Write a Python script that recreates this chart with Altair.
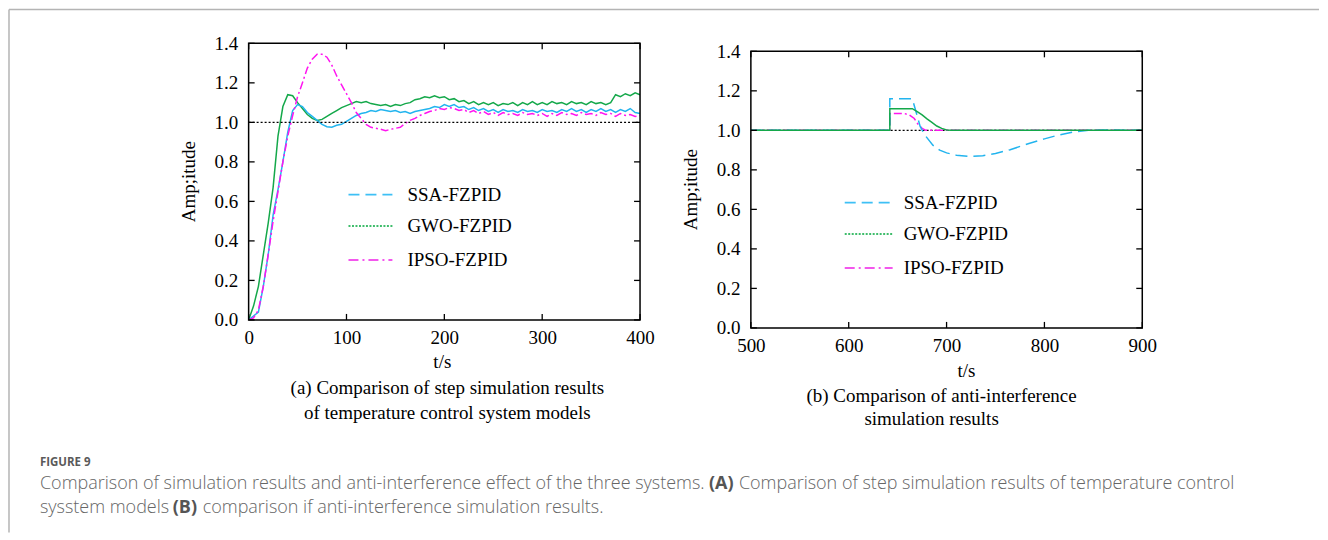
import altair as alt
import pandas as pd

# ---------------- panel (a): step response ----------------
t_a = list(range(0, 401, 5))
ssa_a = [0.00, 0.02, 0.04, 0.17, 0.33, 0.53, 0.66, 0.80, 0.95, 1.06,
         1.09, 1.08, 1.05, 1.03, 1.01, 0.99, 0.978, 0.975, 0.985, 0.99,
         1.005, 1.02, 1.035, 1.045, 1.05, 1.06, 1.055, 1.065, 1.06, 1.055,
         1.06, 1.05, 1.055, 1.045, 1.055, 1.06, 1.065, 1.07, 1.08, 1.075,
         1.09, 1.08, 1.09, 1.075, 1.08, 1.065, 1.075, 1.06, 1.07, 1.055,
         1.065, 1.05, 1.065, 1.055, 1.06, 1.05, 1.065, 1.055, 1.06, 1.05,
         1.065, 1.055, 1.06, 1.05, 1.065, 1.055, 1.07, 1.055, 1.065, 1.05,
         1.065, 1.055, 1.07, 1.055, 1.065, 1.05, 1.065, 1.055, 1.07, 1.05,
         1.045]
gwo_a = [0.00, 0.07, 0.17, 0.33, 0.49, 0.67, 0.93, 1.08, 1.14, 1.135,
         1.10, 1.07, 1.04, 1.02, 1.01, 1.015, 1.03, 1.045, 1.06, 1.075,
         1.085, 1.095, 1.105, 1.10, 1.105, 1.095, 1.09, 1.085, 1.09, 1.08,
         1.09, 1.085, 1.095, 1.10, 1.115, 1.12, 1.13, 1.125, 1.135, 1.125,
         1.13, 1.115, 1.12, 1.105, 1.11, 1.095, 1.105, 1.09, 1.10, 1.09,
         1.10, 1.085, 1.095, 1.09, 1.10, 1.085, 1.10, 1.09, 1.105, 1.09,
         1.10, 1.09, 1.105, 1.095, 1.10, 1.09, 1.105, 1.095, 1.10, 1.09,
         1.105, 1.095, 1.10, 1.09, 1.10, 1.14, 1.13, 1.145, 1.135, 1.15,
         1.14]
ipso_a = [0.00, 0.01, 0.05, 0.17, 0.33, 0.50, 0.65, 0.80, 0.93, 1.035,
          1.13, 1.20, 1.275, 1.32, 1.345, 1.345, 1.33, 1.29, 1.235, 1.19,
          1.145, 1.10, 1.05, 1.02, 0.99, 0.975, 0.97, 0.965, 0.958, 0.965,
          0.97, 0.975, 0.995, 1.01, 1.02, 1.035, 1.045, 1.055, 1.06, 1.07,
          1.065, 1.075, 1.07, 1.06, 1.065, 1.05, 1.06, 1.045, 1.055, 1.04,
          1.05, 1.035, 1.05, 1.04, 1.045, 1.035, 1.05, 1.04, 1.045, 1.035,
          1.045, 1.03, 1.045, 1.035, 1.05, 1.04, 1.045, 1.035, 1.05, 1.04,
          1.045, 1.035, 1.05, 1.04, 1.045, 1.03, 1.045, 1.035, 1.04, 1.03,
          1.035]

# ---------------- panel (b): anti-interference ----------------
t_ssa_b = [500, 642, 642, 665, 669, 673, 678, 686, 693, 700, 710, 723, 737,
           750, 765, 785, 800, 815, 830, 845, 860, 900]
ssa_b = [1.0, 1.0, 1.16, 1.16, 1.09, 1.02, 0.975, 0.925, 0.900, 0.886, 0.874,
         0.868, 0.872, 0.883, 0.902, 0.935, 0.957, 0.977, 0.992, 1.0, 1.002, 1.0]
t_gwo_b = [500, 642, 642, 665, 670, 675, 680, 685, 690, 695, 700, 705, 900]
gwo_b = [1.0, 1.0, 1.11, 1.11, 1.095, 1.078, 1.058, 1.04, 1.022, 1.01, 1.002, 1.0, 1.0]
t_ipso_b = [500, 642, 642, 657, 662, 667, 671, 675, 679, 900]
ipso_b = [1.0, 1.0, 1.085, 1.085, 1.078, 1.06, 1.03, 1.01, 1.0, 1.0]

series_names = ["SSA-FZPID", "GWO-FZPID", "IPSO-FZPID"]
series_colors = ["#22B4EE", "#14A84A", "#FF14F0"]
x_ticks_a = [0, 100, 200, 300, 400]
x_ticks_b = [500, 600, 700, 800, 900]
y_ticks = [0.0, 0.2, 0.4, 0.6, 0.8, 1.0, 1.2, 1.4]
reference_level = [1.0]

SERIF = "Liberation Serif"
SANS = "Open Sans"
W, H = 392, 277
ONE = pd.DataFrame({"k": [0]})


def xenc(domain, ticks):
    return alt.X("t:Q", scale=alt.Scale(domain=domain, nice=False, zero=False),
                 axis=alt.Axis(values=ticks, title=None, grid=False, domain=False,
                               ticks=False, tickSize=0, labelPadding=9,
                               labelFont=SERIF, labelFontSize=19, labelColor="black",
                               labelFlush=False, labelOverlap=False))


def yenc():
    return alt.Y("v:Q", scale=alt.Scale(domain=[0, 1.4], nice=False),
                 axis=alt.Axis(values=y_ticks, format=".1f", title=None, grid=False,
                               domain=False, ticks=False, tickSize=0, labelPadding=11,
                               labelFont=SERIF, labelFontSize=19, labelColor="black",
                               labelOverlap=False))


def txt(s, x, y, size=19, font=SERIF, align="center", weight="normal",
        color="black", angle=0):
    return alt.Chart(pd.DataFrame({"s": [s]})).mark_text(
        align=align, baseline="middle", font=font, fontSize=size,
        fontWeight=weight, color=color, angle=angle
    ).encode(text="s:N", x=alt.value(x), y=alt.value(y))


def series_line(ts, vs, color, dash, X, Y, width=1.5):
    df = pd.DataFrame({"t": ts, "v": vs, "i": list(range(len(ts)))})
    kw = dict(color=color, strokeWidth=width, clip=True)
    if dash:
        kw["strokeDash"] = dash
    return alt.Chart(df).mark_line(**kw).encode(x=X, y=Y, order=alt.Order("i:Q"))


def frame_and_ticks(X, Y, xt):
    dfx = pd.DataFrame({"t": xt})
    dfy = pd.DataFrame({"v": y_ticks})
    tb = alt.Chart(dfx).mark_rule(color="black", strokeWidth=1.3).encode(
        x=X, y=alt.value(H), y2=alt.value(H - 6))
    tt = alt.Chart(dfx).mark_rule(color="black", strokeWidth=1.3).encode(
        x=X, y=alt.value(0), y2=alt.value(6))
    tl = alt.Chart(dfy).mark_rule(color="black", strokeWidth=1.3).encode(
        y=Y, x=alt.value(0), x2=alt.value(6))
    tr = alt.Chart(dfy).mark_rule(color="black", strokeWidth=1.3).encode(
        y=Y, x=alt.value(W), x2=alt.value(W - 6))
    fr = alt.Chart(ONE).mark_rect(fill="transparent", stroke="black",
                                  strokeWidth=1.5).encode(
        x=alt.value(0), x2=alt.value(W), y=alt.value(0), y2=alt.value(H))
    return [tb, tt, tl, tr, fr]


def ref_line(Y):
    return alt.Chart(pd.DataFrame({"v": reference_level})).mark_rule(
        color="black", strokeWidth=1.2, strokeDash=[2, 2]).encode(
        y=Y, x=alt.value(0), x2=alt.value(W))


legend_dashes = [[11, 6], [2, 1.5], [10, 4, 2, 4]]
legend_colors = ["#3EC0F5", "#00A83C", "#F020E8"]


def legend(x1, x2, xt, ys):
    out = []
    for name, c, d, yy in zip(series_names, legend_colors, legend_dashes, ys):
        out.append(alt.Chart(ONE).mark_rule(color=c, strokeWidth=1.6, strokeDash=d)
                   .encode(x=alt.value(x1), x2=alt.value(x2), y=alt.value(yy)))
        out.append(txt(name, xt, yy, align="left"))
    return out


# ----- left panel -----
XA, YA = xenc([0, 400], x_ticks_a), yenc()
left_layers = []
# figure border
left_layers.append(alt.Chart(ONE).mark_rule(color="#b4b4b4", strokeWidth=1.5).encode(
    x=alt.value(-240), y=alt.value(-34), y2=alt.value(490)))
left_layers.append(alt.Chart(ONE).mark_rule(color="#b4b4b4", strokeWidth=1.5).encode(
    x=alt.value(-240), x2=alt.value(1072), y=alt.value(-34)))
left_layers += [
    series_line(t_a, gwo_a, series_colors[1], None, XA, YA),
    series_line(t_a, ssa_a, series_colors[0], None, XA, YA),
    series_line(t_a, ipso_a, series_colors[2], [8, 3, 2, 3], XA, YA),
    ref_line(YA),
]
left_layers += frame_and_ticks(XA, YA, x_ticks_a)
left_layers += legend(100, 144, 159, [151.5, 183, 217])
left_layers += [
    txt("Amp;itude", -60, H / 2, angle=270),
    txt("t/s", 194, 319),
    txt("(a) Comparison of step simulation results", 199, 345),
    txt("of temperature control system models", 199, 370),
]
# figure caption
CAP = "#666666"
CS = 18
left_layers += [
    txt("FIGURE 9", -209, 420, size=11.5, font=SANS, align="left", weight="bold", color="#5a5a5a"),
    txt("Comparison of simulation results and anti-interference effect of the three systems.",
        -209, 441, size=CS, font=SANS, align="left", weight=300, color=CAP),
    txt("(A)", 461, 441, size=CS, font=SANS, align="left", weight="bold", color="#555555"),
    txt("Comparison of step simulation results of temperature control",
        491, 441, size=CS, font=SANS, align="left", weight=300, color=CAP),
    txt("sysstem models", -209, 465, size=CS, font=SANS, align="left", weight=300, color=CAP),
    txt("(B)", -76, 465, size=CS, font=SANS, align="left", weight="bold", color="#555555"),
    txt("comparison if anti-interference simulation results.",
        -46, 465, size=CS, font=SANS, align="left", weight=300, color=CAP),
]
left = alt.layer(*left_layers).properties(width=W, height=H)

# ----- right panel -----
XB, YB = xenc([500, 900], x_ticks_b), yenc()
right_layers = [
    ref_line(YB),
    series_line(t_ipso_b, ipso_b, series_colors[2], [8, 3, 2, 3], XB, YB),
    series_line(t_ssa_b, ssa_b, series_colors[0], [12, 6], XB, YB),
    series_line(t_gwo_b, gwo_b, series_colors[1], None, XB, YB),
]
right_layers += frame_and_ticks(XB, YB, x_ticks_b)
right_layers += legend(94, 142, 153, [151.5, 183, 217])
right_layers += [
    txt("Amp;itude", -60, H / 2, angle=270),
    txt("t/s", 216, 320),
    txt("(b) Comparison of anti-interference", 191, 345),
    txt("simulation results", 181, 368),
]
right = alt.layer(*right_layers).properties(width=W, height=H)

spacer = alt.Chart(ONE).mark_point(opacity=0).encode(
    x=alt.value(0), y=alt.value(0)).properties(width=W, height=8)

right_col = alt.vconcat(spacer, right, spacing=0, bounds="flush")
chart = alt.hconcat(left, right_col, spacing=111, bounds="flush").properties(
    padding=0, background="white"
).configure_view(stroke=None)

chart.save("out.html", embed_options={"renderer": "svg", "actions": False})
